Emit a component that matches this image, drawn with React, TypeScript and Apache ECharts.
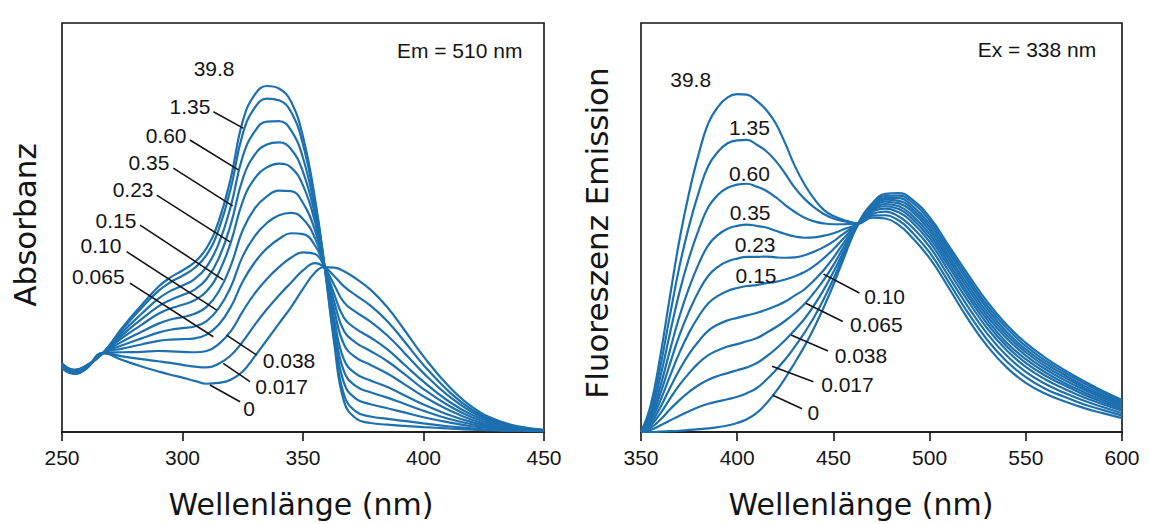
import React, { useEffect, useRef } from "react";
import * as echarts from "echarts";

// ---------- Left panel: absorbance (Em = 510 nm) ----------
const absWavelengths = [250, 255, 260, 267, 275, 283, 290, 295, 300, 305, 310, 315, 320, 325, 330, 335, 340, 345, 350, 355, 359, 363, 367, 372, 378, 385, 392, 400, 410, 420, 430, 440, 450];
const absLabels = ["0", "0.017", "0.038", "0.065", "0.10", "0.15", "0.23", "0.35", "0.60", "1.35", "39.8"];
const abs_0 = [15.6, 14.2, 15.4, 19.3, 17.6, 16.0, 14.8, 14.0, 13.3, 12.5, 11.8, 12.0, 12.8, 14.8, 18.5, 22.5, 26.5, 30.5, 35.0, 39.0, 40.3, 40.2, 39.3, 37.5, 34.8, 30.5, 25.0, 18.5, 11.5, 6.2, 3.0, 1.3, 0.5];
const abs_0017 = [15.7, 14.3, 15.5, 19.3, 18.5, 17.8, 17.3, 16.9, 16.4, 16.0, 15.8, 16.7, 18.7, 22.1, 26.2, 30.0, 33.4, 36.5, 39.5, 41.3, 40.3, 38.1, 35.6, 33.4, 30.9, 27.1, 22.2, 16.4, 10.2, 5.5, 2.7, 1.2, 0.46];
const abs_0038 = [15.9, 14.4, 15.6, 19.3, 19.5, 19.6, 19.8, 19.7, 19.6, 19.5, 19.8, 21.5, 24.6, 29.5, 33.9, 37.4, 40.3, 42.6, 43.9, 43.5, 40.3, 35.9, 31.7, 29.3, 27.0, 23.6, 19.4, 14.4, 9.0, 4.9, 2.4, 1.1, 0.43];
const abs_0065 = [16.0, 14.6, 15.7, 19.3, 20.4, 21.4, 22.3, 22.6, 22.7, 22.9, 23.8, 26.2, 30.5, 36.8, 41.5, 44.9, 47.2, 48.6, 48.4, 45.6, 40.3, 33.6, 27.9, 25.2, 23.1, 20.2, 16.5, 12.3, 7.7, 4.2, 2.1, 0.9, 0.39];
const abs_010 = [16.2, 14.7, 15.8, 19.3, 21.2, 22.9, 24.3, 25.0, 25.4, 25.8, 27.1, 30.2, 35.4, 43.0, 47.9, 51.1, 53.0, 53.6, 52.1, 47.4, 40.3, 31.7, 24.7, 21.8, 19.8, 17.3, 14.2, 10.5, 6.6, 3.6, 1.8, 0.8, 0.36];
const abs_015 = [16.3, 14.8, 15.9, 19.3, 22.1, 24.5, 26.5, 27.5, 28.1, 28.9, 30.6, 34.3, 40.6, 49.4, 54.7, 57.6, 59.0, 58.9, 56.0, 49.3, 40.3, 29.7, 21.4, 18.2, 16.4, 14.3, 11.7, 8.7, 5.5, 3.0, 1.5, 0.7, 0.33];
const abs_023 = [16.4, 14.9, 15.9, 19.3, 23.0, 26.2, 28.9, 30.2, 31.1, 32.2, 34.4, 38.9, 46.3, 56.4, 62.0, 64.7, 65.6, 64.7, 60.3, 51.3, 40.3, 27.5, 17.7, 14.2, 12.6, 11.0, 9.0, 6.7, 4.3, 2.4, 1.2, 0.6, 0.3];
const abs_035 = [16.5, 15.0, 16.0, 19.3, 23.7, 27.6, 30.7, 32.3, 33.5, 34.8, 37.4, 42.4, 50.7, 61.9, 67.8, 70.3, 70.8, 69.2, 63.6, 52.9, 40.3, 25.8, 14.8, 11.2, 9.7, 8.4, 6.9, 5.2, 3.3, 1.9, 1.0, 0.5, 0.27];
const abs_060 = [16.6, 15.1, 16.1, 19.3, 24.4, 28.9, 32.6, 34.5, 35.8, 37.4, 40.4, 46.0, 55.1, 67.4, 73.5, 75.9, 76.0, 73.8, 67.0, 54.5, 40.3, 24.2, 12.0, 8.1, 6.8, 5.8, 4.8, 3.6, 2.4, 1.4, 0.8, 0.4, 0.24];
const abs_135 = [16.7, 15.2, 16.2, 19.3, 25.1, 30.3, 34.5, 36.6, 38.2, 40.1, 43.3, 49.5, 59.5, 72.9, 79.3, 81.5, 81.1, 78.3, 70.3, 56.1, 40.3, 22.4, 9.1, 5.0, 3.8, 3.2, 2.7, 2.1, 1.4, 0.9, 0.5, 0.35, 0.22];
const abs_398 = [16.8, 15.2, 16.2, 19.3, 25.5, 31.0, 35.5, 37.8, 39.5, 41.5, 45.0, 51.5, 62.0, 76.0, 82.5, 84.6, 84.0, 80.8, 72.2, 57.0, 40.3, 21.5, 7.5, 3.3, 2.2, 1.8, 1.5, 1.2, 0.9, 0.6, 0.4, 0.3, 0.2];
const absCurves = [abs_0, abs_0017, abs_0038, abs_0065, abs_010, abs_015, abs_023, abs_035, abs_060, abs_135, abs_398];
const absTicks = [250, 450, 50];

// label positions (data coords) and leader lines [x1, y1, x2, y2]
const absLabelPos = [[327.6, 5.8], [341.1, 11.1], [344.2, 17.6], [265.1, 38.0], [266.2, 45.7], [272.4, 51.8], [279.5, 59.2], [286.1, 65.8], [293.2, 72.6], [303.1, 79.5], [313.1, 88.8]];
const absLeaders = [[311.4, 11.5, 323.9, 7.4], [316.9, 16.8, 328.0, 12.3], [318.3, 23.7, 330.8, 18.8], [278.2, 36.4, 312.8, 23.3], [276.8, 44.1, 314.2, 29.8], [282.4, 50.6, 316.9, 37.2], [289.3, 57.9, 319.7, 46.5], [296.2, 64.5, 320.8, 55.3], [303.1, 71.4, 323.2, 64.1], [312.8, 78.3, 325.2, 74.3], null];
const absNote = { text: "Em = 510 nm", pos: [415, 93.3] };

// ---------- Right panel: fluorescence emission (Ex = 338 nm) ----------
const fluWavelengths = [350, 355, 360, 365, 370, 375, 380, 385, 390, 395, 400, 405, 410, 415, 420, 425, 430, 435, 440, 445, 450, 455, 463, 470, 477, 484, 490, 500, 510, 520, 530, 540, 550, 560, 570, 580, 590, 600];
const fluLabels = ["0", "0.017", "0.038", "0.065", "0.10", "0.15", "0.23", "0.35", "0.60", "1.35", "39.8"];
const flu_0 = [0, 0, 0.1, 0.2, 0.3, 0.5, 0.7, 0.9, 1.2, 1.6, 2.2, 3.1, 4.6, 6.9, 9.8, 13.2, 17.0, 21.0, 25.5, 30.5, 36.0, 42.0, 51.0, 55.8, 58.2, 58.4, 57.2, 52.5, 45.5, 38.5, 31.8, 26.2, 21.8, 18.2, 15.2, 12.5, 10.0, 7.8];
const flu_0017 = [0, 0.5, 1.6, 2.8, 4.0, 5.1, 6.1, 6.9, 7.5, 8.0, 8.6, 9.5, 10.7, 12.7, 15.1, 17.8, 20.9, 24.3, 28.1, 32.5, 37.4, 42.9, 51.0, 55.5, 57.7, 57.8, 56.5, 51.7, 44.7, 37.6, 30.9, 25.4, 21.0, 17.5, 14.6, 12.0, 9.6, 7.5];
const flu_0038 = [0, 1.0, 3.0, 5.5, 7.8, 9.8, 11.5, 12.8, 13.7, 14.4, 15.1, 15.8, 16.8, 18.4, 20.3, 22.5, 25.0, 27.7, 31.0, 34.8, 39.1, 43.8, 51.0, 55.3, 57.2, 57.2, 55.7, 50.9, 43.9, 36.8, 30.1, 24.5, 20.2, 16.8, 14.0, 11.4, 9.1, 7.1];
const flu_0065 = [0, 1.6, 4.5, 8.1, 11.5, 14.4, 16.9, 18.8, 20.0, 20.9, 21.5, 22.2, 22.9, 24.2, 25.6, 27.2, 29.1, 31.3, 34.1, 37.2, 40.8, 44.9, 51.0, 55.0, 56.8, 56.5, 55.0, 50.1, 43.0, 35.9, 29.2, 23.7, 19.5, 16.1, 13.4, 10.9, 8.7, 6.7];
const flu_010 = [0, 2.1, 6.0, 10.7, 15.2, 19.1, 22.2, 24.8, 26.3, 27.3, 27.9, 28.5, 29.1, 29.9, 30.8, 31.9, 33.4, 34.9, 37.1, 39.6, 42.6, 46.0, 51.0, 54.7, 56.3, 55.9, 54.3, 49.3, 42.2, 35.0, 28.3, 22.9, 18.7, 15.4, 12.7, 10.4, 8.3, 6.4];
const flu_015 = [0, 2.7, 7.6, 13.6, 19.4, 24.3, 28.3, 31.5, 33.3, 34.5, 35.2, 35.7, 35.9, 36.4, 36.7, 37.3, 38.1, 39.1, 40.6, 42.5, 44.7, 47.2, 51.0, 54.4, 55.7, 55.2, 53.4, 48.4, 41.3, 34.0, 27.4, 21.9, 17.8, 14.6, 12.0, 9.8, 7.8, 6.0];
const flu_023 = [0, 3.3, 9.3, 16.6, 23.7, 29.5, 34.4, 38.2, 40.4, 41.7, 42.4, 42.8, 42.8, 42.9, 42.7, 42.6, 42.7, 43.2, 44.1, 45.2, 46.6, 48.4, 51.0, 54.1, 55.2, 54.5, 52.6, 47.5, 40.4, 33.1, 26.4, 21.0, 16.9, 13.8, 11.4, 9.2, 7.3, 5.6];
const flu_035 = [0, 3.9, 11.1, 19.9, 28.3, 35.3, 41.1, 45.7, 48.2, 49.7, 50.4, 50.7, 50.4, 50.0, 49.2, 48.4, 47.8, 47.5, 47.6, 48.0, 48.6, 49.5, 51.0, 53.8, 54.6, 53.7, 51.7, 46.5, 39.3, 32.0, 25.3, 20.0, 15.9, 12.9, 10.6, 8.5, 6.8, 5.2];
const flu_060 = [0, 4.7, 13.4, 24.0, 34.2, 42.6, 49.5, 55.0, 58.0, 59.7, 60.5, 60.7, 60.0, 59.0, 57.4, 55.5, 53.8, 52.4, 51.5, 51.0, 50.8, 50.8, 51.0, 53.3, 53.9, 52.7, 50.5, 45.3, 38.0, 30.6, 24.0, 18.7, 14.7, 11.8, 9.6, 7.7, 6.1, 4.6];
const flu_135 = [0, 5.6, 15.9, 28.4, 40.5, 50.4, 58.6, 65.1, 68.5, 70.6, 71.3, 71.4, 70.3, 68.7, 66.3, 63.1, 59.7, 57.0, 54.9, 53.3, 52.2, 51.6, 51.0, 52.9, 53.0, 51.7, 49.3, 43.9, 36.6, 29.1, 22.5, 17.3, 13.4, 10.6, 8.6, 6.8, 5.4, 4.0];
const flu_398 = [0, 6.5, 18.5, 33.0, 47.0, 58.5, 68.0, 75.5, 79.5, 81.8, 82.6, 82.5, 81.0, 78.8, 75.5, 70.5, 65.0, 60.5, 57.0, 54.3, 52.8, 51.9, 51.0, 52.4, 52.2, 50.6, 48.0, 42.5, 35.2, 27.6, 21.0, 15.8, 12.0, 9.4, 7.5, 5.9, 4.6, 3.4];
const fluCurves = [flu_0, flu_0017, flu_0038, flu_0065, flu_010, flu_015, flu_023, flu_035, flu_060, flu_135, flu_398];
const fluTicks = [350, 600, 50];

const fluLabelPos = [[439.6, 4.7], [457.3, 11.5], [464.3, 18.7], [472.3, 26.2], [476.6, 33.1], [409.8, 38.3], [409.3, 45.8], [406.7, 53.6], [406.4, 63.2], [406.4, 74.5], [375.8, 86.1]];
const fluLeaders = [[418.5, 9.0, 433.7, 5.7], [418.1, 16.1, 439.6, 12.3], [428.0, 23.7, 447.2, 19.8], [435.7, 31.5, 454.9, 27.0], [444.9, 38.6, 463.5, 34.0], null, null, null, null, null, null];
const fluNote = { text: "Ex = 338 nm", pos: [555.8, 93.4] };

const xTitle = "Wellenlänge (nm)";
const yTitles = ["Absorbanz", "Fluoreszenz Emission"];

const LINE_COLOR = "#1d70af";
const INK = "#141414";
const SANS = "'Liberation Sans', Arial, Helvetica, sans-serif";
const TITLE_FONT = "'DejaVu Sans', Verdana, sans-serif";

function makeXAxis(gridIndex: number, ticks: number[]) {
  return {
    gridIndex,
    type: "value",
    min: ticks[0],
    max: ticks[1],
    interval: ticks[2],
    axisLine: { show: true, lineStyle: { color: INK, width: 1.6 } },
    axisTick: { show: true, inside: false, length: 9, lineStyle: { color: INK, width: 1.6 } },
    axisLabel: { fontSize: 21, color: INK, fontFamily: SANS, margin: 15 },
    splitLine: { show: false },
  };
}

function makeSeries(gridIndex: number, xs: number[], curves: number[][], names: string[]) {
  return curves.map((c, k) => ({
    name: names[k],
    type: "line",
    xAxisIndex: gridIndex,
    yAxisIndex: gridIndex,
    data: xs.map((x, i) => [x, c[i]]),
    showSymbol: false,
    symbol: "none",
    smooth: 0.45,
    silent: true,
    lineStyle: { color: LINE_COLOR, width: 2.2 },
    z: 2,
  }));
}

export default function App() {
  const ref = useRef<HTMLDivElement>(null);

  useEffect(() => {
    if (!ref.current) return;
    const chart = echarts.init(ref.current, undefined, { renderer: "svg" });
    const option: any = {
      animation: false,
      backgroundColor: "#ffffff",
      grid: [
        { left: 62, top: 23, width: 482, height: 409, show: true, borderColor: INK, borderWidth: 1.6, backgroundColor: "transparent" },
        { left: 641, top: 23, width: 481, height: 409, show: true, borderColor: INK, borderWidth: 1.6, backgroundColor: "transparent" },
      ],
      xAxis: [makeXAxis(0, absTicks), makeXAxis(1, fluTicks)],
      yAxis: [
        { gridIndex: 0, type: "value", min: 0, max: 100, show: false },
        { gridIndex: 1, type: "value", min: 0, max: 100, show: false },
      ],
      series: [
        ...makeSeries(0, absWavelengths, absCurves, absLabels),
        ...makeSeries(1, fluWavelengths, fluCurves, fluLabels),
      ],
    };
    chart.setOption(option);

    const elements: any[] = [];
    const textStyle = (t: string) => ({
      text: t, fill: INK, fontSize: 21, fontFamily: SANS,
      align: "center", verticalAlign: "middle", textAlign: "center", textVerticalAlign: "middle",
    });
    const addPanel = (gridIndex: number, labels: string[], pos: number[][], leaders: (number[] | null)[], note: { text: string; pos: number[] }) => {
      labels.forEach((t, i) => {
        const p = chart.convertToPixel({ gridIndex }, pos[i]) as number[];
        elements.push({ type: "text", x: p[0], y: p[1], z: 100, silent: true, style: textStyle(t) });
        const l = leaders[i];
        if (l) {
          const a = chart.convertToPixel({ gridIndex }, [l[0], l[1]]) as number[];
          const b = chart.convertToPixel({ gridIndex }, [l[2], l[3]]) as number[];
          elements.push({
            type: "line", z: 100, silent: true,
            shape: { x1: a[0], y1: a[1], x2: b[0], y2: b[1] },
            style: { stroke: INK, lineWidth: 1.6 },
          });
        }
      });
      const np = chart.convertToPixel({ gridIndex }, note.pos) as number[];
      elements.push({ type: "text", x: np[0], y: np[1], z: 100, silent: true, style: textStyle(note.text) });
    };
    addPanel(0, absLabels, absLabelPos, absLeaders, absNote);
    addPanel(1, fluLabels, fluLabelPos, fluLeaders, fluNote);

    const titleStyle = { fill: INK, fontSize: 30, fontFamily: TITLE_FONT, align: "center", verticalAlign: "middle", textAlign: "center", textVerticalAlign: "middle" };
    elements.push({ type: "text", x: 301, y: 504, z: 100, silent: true, style: { ...titleStyle, text: xTitle } });
    elements.push({ type: "text", x: 861, y: 504, z: 100, silent: true, style: { ...titleStyle, text: xTitle } });
    elements.push({ type: "text", x: 25, y: 225, rotation: Math.PI / 2, z: 100, silent: true, style: { ...titleStyle, fontSize: 31, text: yTitles[0] } });
    elements.push({ type: "text", x: 597, y: 233, rotation: Math.PI / 2, z: 100, silent: true, style: { ...titleStyle, fontSize: 31, text: yTitles[1] } });

    chart.setOption({ graphic: { elements } });

    return () => {
      chart.dispose();
    };
  }, []);

  return (
    <div
      ref={ref}
      style={{ position: "fixed", left: 0, top: 0, width: 1149, height: 524, background: "#ffffff" }}
    />
  );
}
